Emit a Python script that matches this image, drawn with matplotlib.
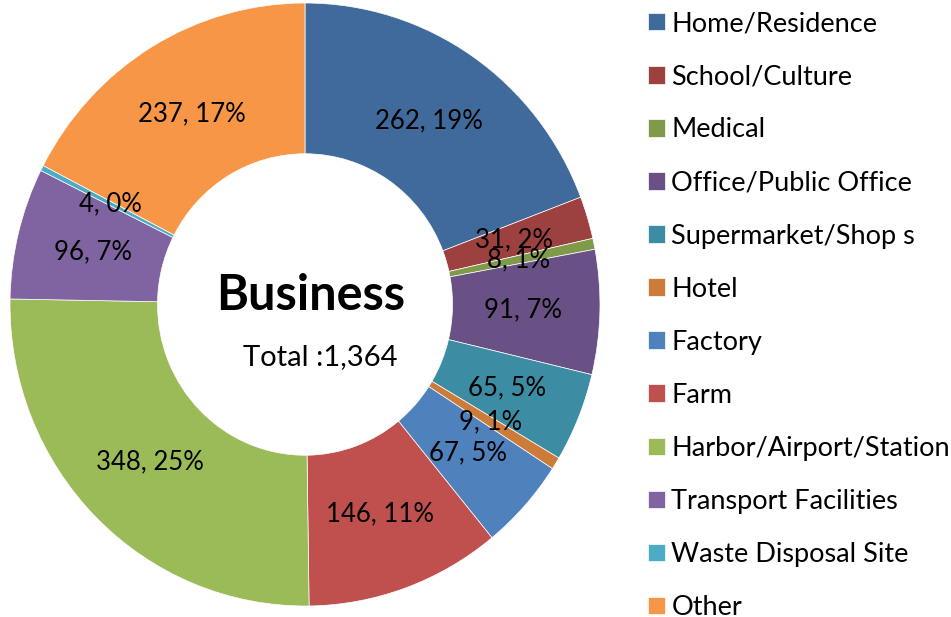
import matplotlib
matplotlib.use("Agg")
import matplotlib.pyplot as plt
import numpy as np

plt.rcParams['font.family'] = ['Lato', 'DejaVu Sans']

CATEGORIES = ['Home/Residence', 'School/Culture', 'Medical', 'Office/Public Office',
              'Supermarket/Shop s', 'Hotel', 'Factory', 'Farm',
              'Harbor/Airport/Station', 'Transport Facilities', 'Waste Disposal Site', 'Other']
COUNTS = [262, 31, 8, 91, 65, 9, 67, 146, 348, 96, 4, 237]
PERCENTS = [19, 2, 1, 7, 5, 1, 5, 11, 25, 7, 0, 17]
COLORS = ['#416A9C', '#9C413F', '#7F9A48', '#695185', '#3C8DA3', '#CC7B38',
          '#4F81BD', '#C0504D', '#9BBB59', '#8064A2', '#4BACC6', '#F79646']
TITLE = 'Business'
TOTAL_LABEL = 'Total :1,364'


fig = plt.figure(figsize=(9.51, 6.17), dpi=100)
# the original donut is a touch taller than wide
ax = fig.add_axes([10 / 951, 11 / 617, 590 / 951, 603 / 617])

wedges, _ = ax.pie(COUNTS, colors=COLORS, startangle=90, counterclock=False,
                   radius=1.0, wedgeprops=dict(width=0.5, edgecolor='white', linewidth=0.5))

# data labels in the middle of the ring
for w, n, p in zip(wedges, COUNTS, PERCENTS):
    mid = np.deg2rad((w.theta1 + w.theta2) / 2)
    r = 0.74
    ax.text(r * np.cos(mid), r * np.sin(mid), f"{n}, {p}%",
            ha='center', va='center', fontsize=18.5, color='black')

ax.text(0.02, 0.03, TITLE, ha='center', va='center', fontsize=35, fontweight='bold')
ax.text(0.05, -0.175, TOTAL_LABEL, ha='center', va='center', fontsize=21)

ax.set_xlim(-1, 1)
ax.set_ylim(-1, 1)
ax.set_aspect('auto')
ax.axis('off')

fig.legend(wedges, CATEGORIES, loc='upper left', bbox_to_anchor=(643 / 951, 1 - 6 / 617),
           frameon=False, fontsize=19.5, handlelength=0.6, handleheight=0.6,
           handletextpad=0.25, labelspacing=1.035, borderaxespad=0, borderpad=0.2)

fig.savefig('out.png', dpi=100)
